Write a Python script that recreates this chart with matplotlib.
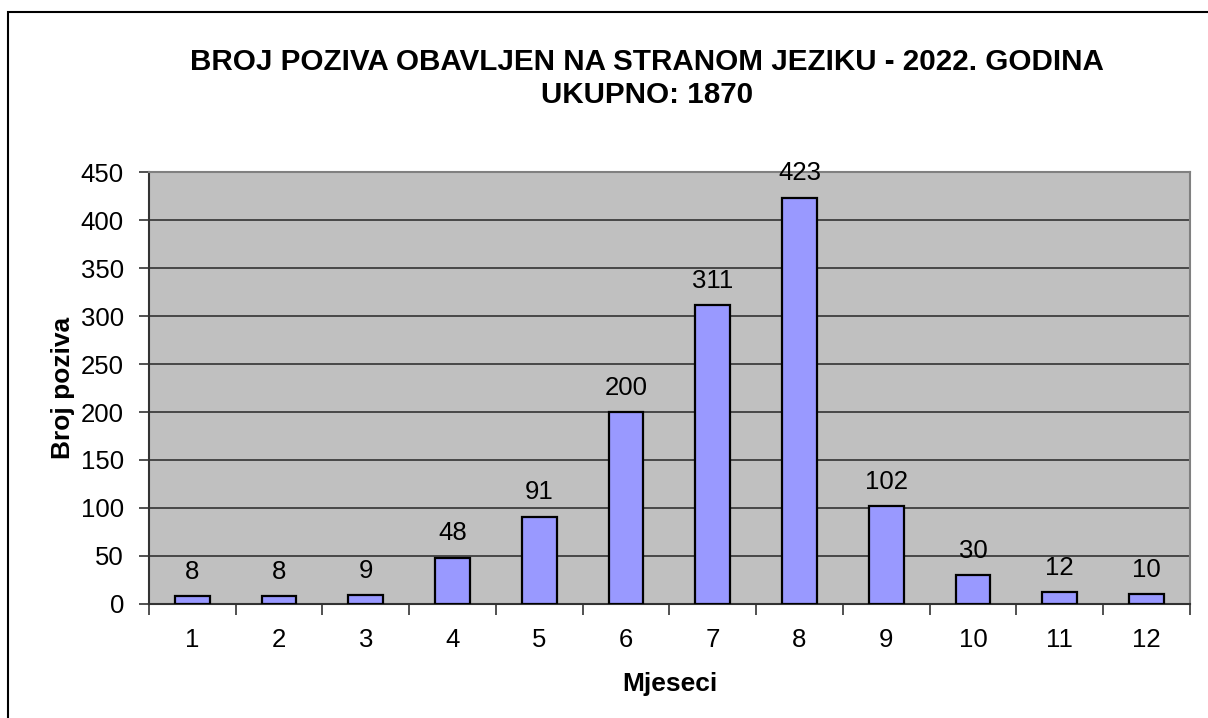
import matplotlib.pyplot as plt
import matplotlib.patches as patches
import numpy as np

plt.rcParams['font.family'] = ['Liberation Sans', 'DejaVu Sans']

months = [1, 2, 3, 4, 5, 6, 7, 8, 9, 10, 11, 12]
calls = [8, 8, 9, 48, 91, 200, 311, 423, 102, 30, 12, 10]
total = 1870

fig = plt.figure(figsize=(12.08, 7.18), dpi=100)
ax = fig.add_axes([0.1233, 0.1588, 0.8617, 0.6016])

# outer chart border (Excel style)
fig.patches.append(patches.Rectangle((8 / 1208, -0.05), 1.1, 1 - 12 / 718 + 0.05,
                                     transform=fig.transFigure, fill=False,
                                     edgecolor='black', linewidth=1.5))

x = np.arange(len(months))
ax.set_facecolor('#C0C0C0')
ax.bar(x, calls, width=0.4, color='#9999FF', edgecolor='black', linewidth=1.6, zorder=3)
for xi, v in zip(x, calls):
    ax.text(xi, v + 13, str(v), ha='center', va='bottom', fontsize=18.5)

ax.set_xlim(-0.5, len(months) - 0.5)
ax.set_ylim(0, 450)
ax.set_yticks(range(0, 451, 50))
ax.yaxis.grid(True, color='#333333', linewidth=1.2, zorder=0)
ax.set_axisbelow(True)

ax.set_xticks(x)
ax.set_xticklabels([str(m) for m in months], fontsize=18.5)
ax.set_xticks(np.arange(-0.5, len(months), 1), minor=True)
ax.tick_params(axis='x', which='major', length=0, pad=17)
ax.tick_params(axis='x', which='minor', length=8, width=1.2, color='#333333')
ax.tick_params(axis='y', length=7, width=1.2, color='#333333', labelsize=18.5, pad=11)

for side in ['top', 'right']:
    ax.spines[side].set_color('#808080')
    ax.spines[side].set_linewidth(1.5)
for side in ['left', 'bottom']:
    ax.spines[side].set_color('#333333')
    ax.spines[side].set_linewidth(1.5)

ax.set_xlabel('Mjeseci', fontsize=19, fontweight='bold', labelpad=15)
ax.set_ylabel('Broj poziva', fontsize=19, fontweight='bold', labelpad=4)

fig.text(647 / 1208, 1 - 62 / 718, 'BROJ POZIVA OBAVLJEN NA STRANOM JEZIKU - 2022. GODINA',
         ha='center', va='center', fontsize=21.3, fontweight='bold')
fig.text(647 / 1208, 1 - 95 / 718, 'UKUPNO: %d' % total,
         ha='center', va='center', fontsize=21.3, fontweight='bold')

fig.savefig('out.png', dpi=100)
